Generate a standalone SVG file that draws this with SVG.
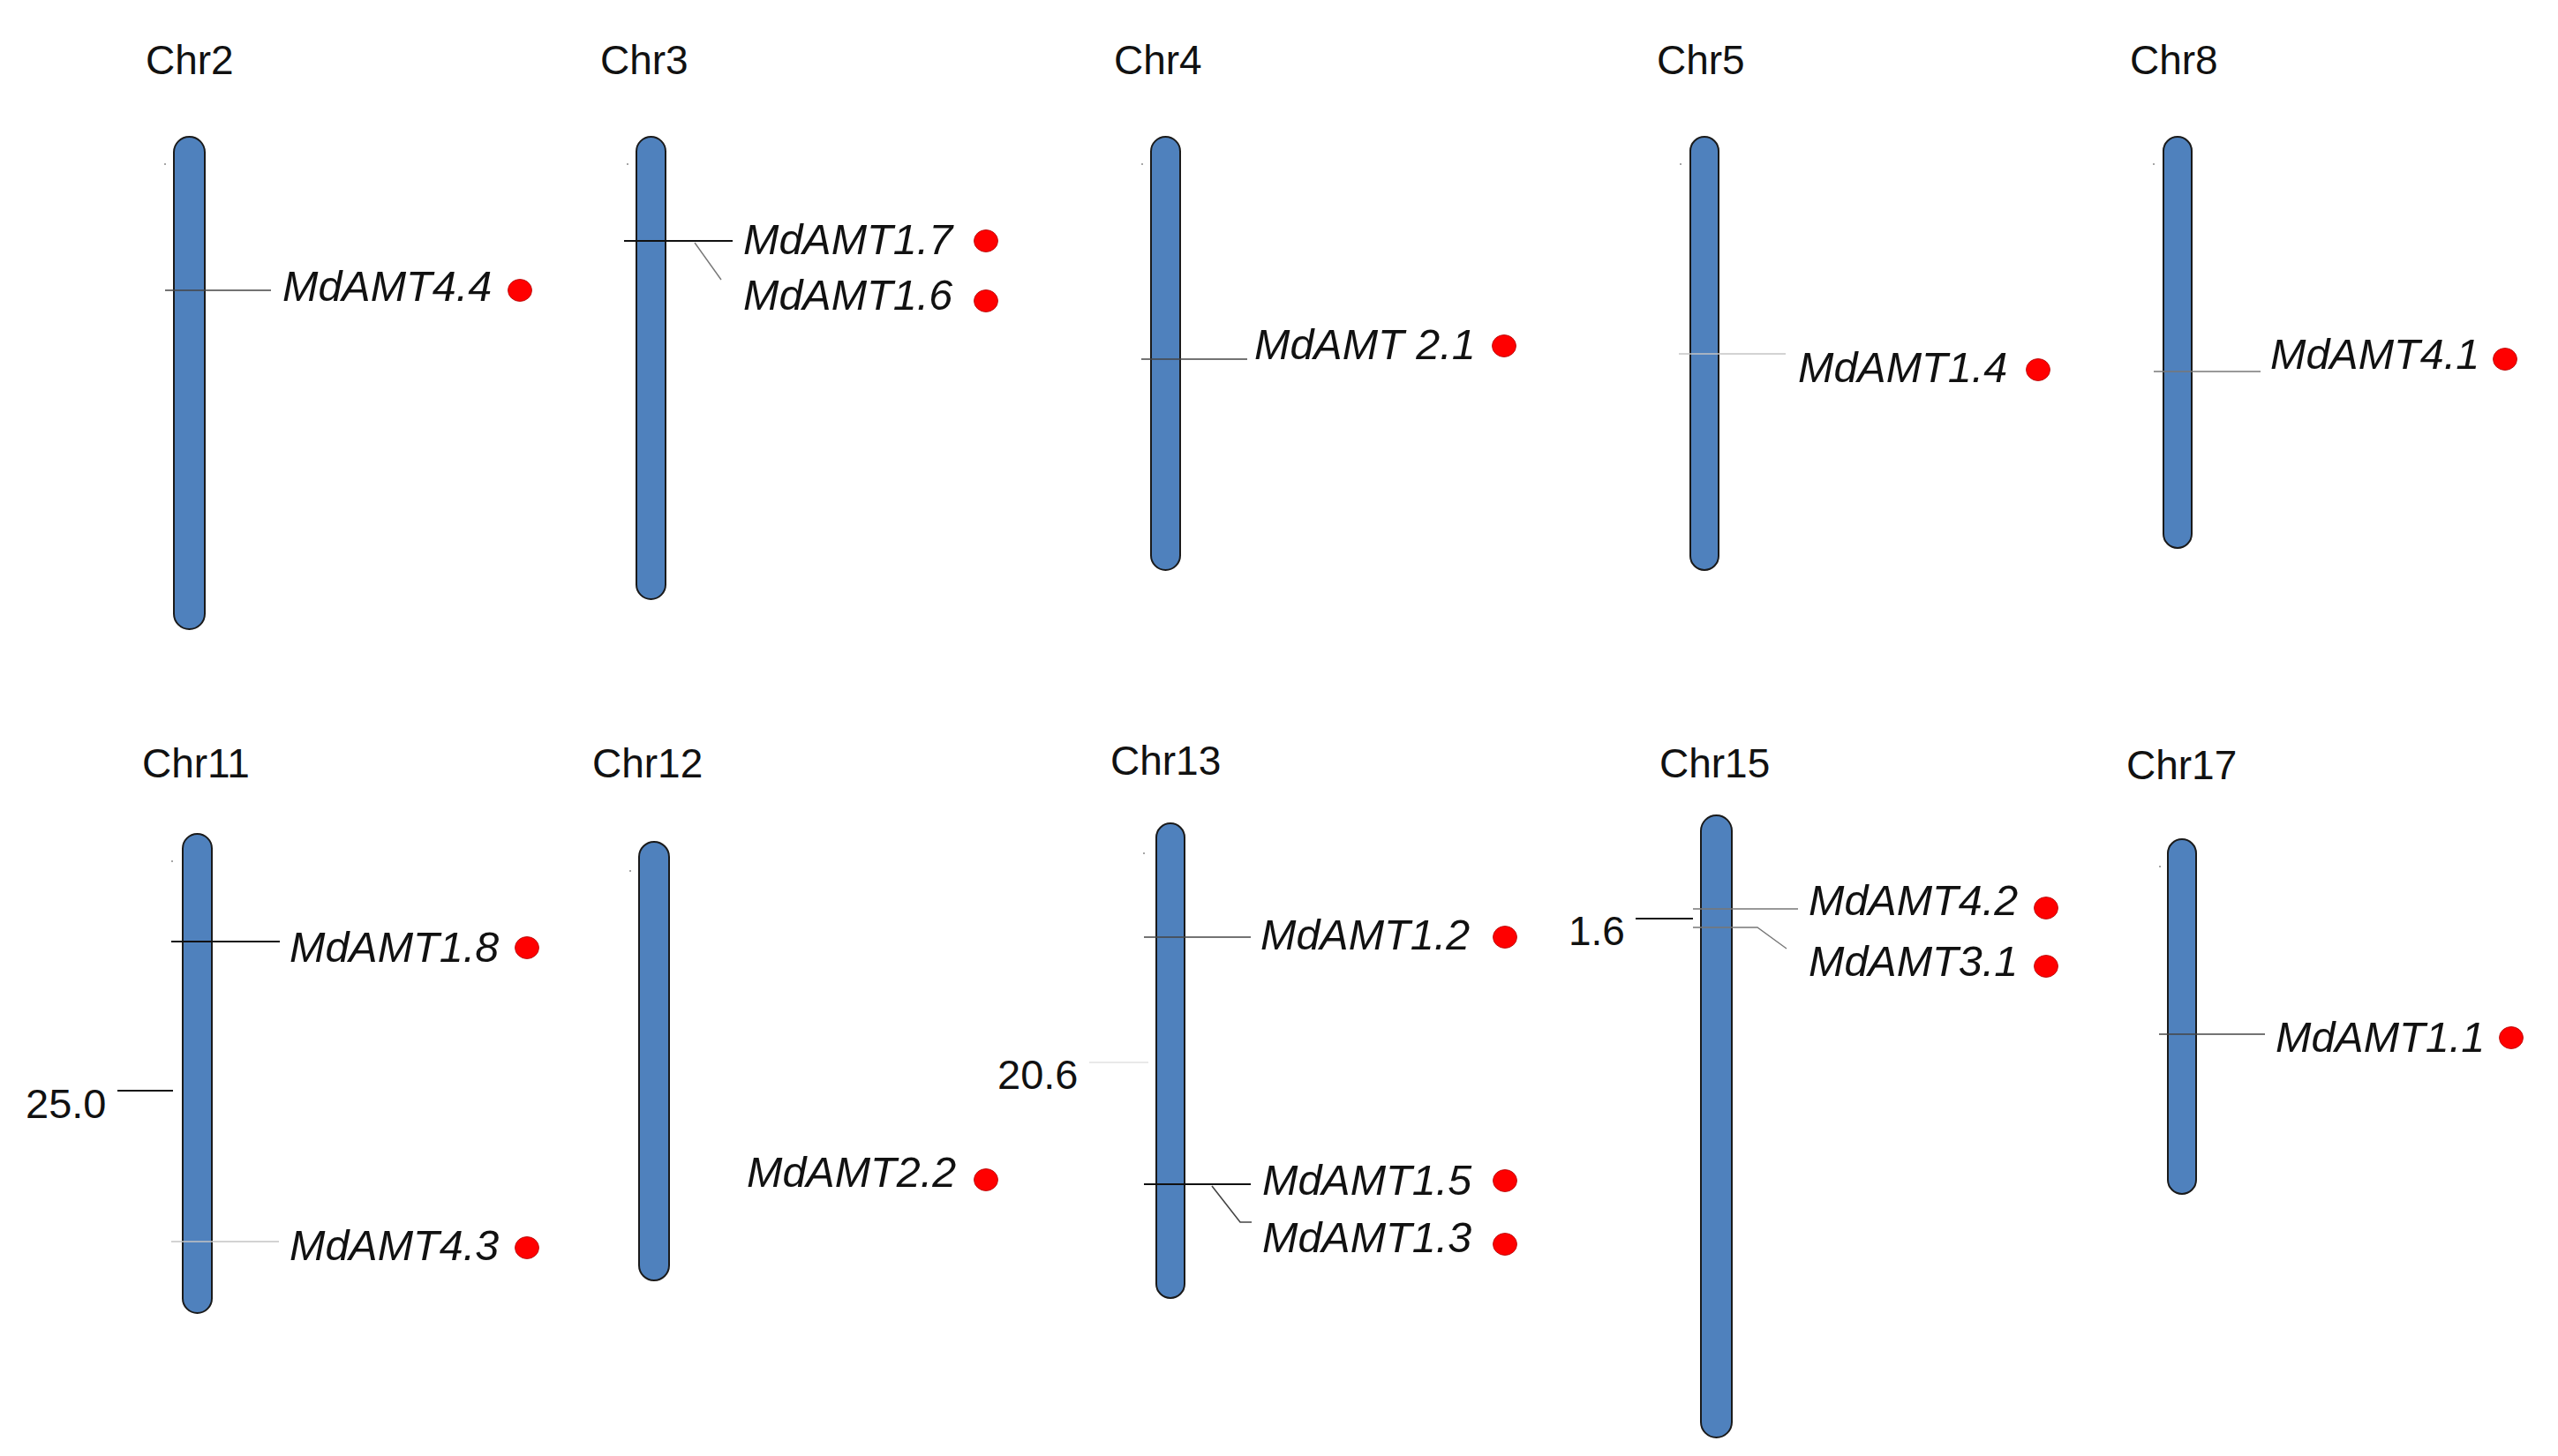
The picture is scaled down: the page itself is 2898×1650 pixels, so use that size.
<svg xmlns="http://www.w3.org/2000/svg" width="2898" height="1650" viewBox="0 0 2898 1650">
<style>
.chr{fill:#4F81BD;stroke:#1a1a1a;stroke-width:2}
.ttl{font-family:"Liberation Sans",Arial,sans-serif;font-size:46px;fill:#111}
.gn{font-family:"Liberation Sans",Arial,sans-serif;font-size:48.5px;font-style:italic;fill:#111}
.num{font-family:"Liberation Sans",Arial,sans-serif;font-size:47px;fill:#111}
.dot{fill:#FF0000;stroke:#b00000;stroke-width:0.8}
.tiny{fill:#888}
.k{stroke:#111;stroke-width:2;fill:none}
.d{stroke:#444;stroke-width:1.6;fill:none}
.m{stroke:#777;stroke-width:1.4;fill:none}
.l{stroke:#c4c4c4;stroke-width:1.4;fill:none}
.xl{stroke:#e2e2e2;stroke-width:1.4;fill:none}
</style>
<rect width="2898" height="1650" fill="#fff"/>

<g id="Chr2"><rect class="chr" x="197" y="155" width="35" height="558" rx="17.5"/><text class="ttl" x="165" y="84">Chr2</text><circle class="tiny" cx="187" cy="186" r="1"/></g>
<g id="Chr3"><rect class="chr" x="721" y="155" width="33" height="524" rx="16.5"/><text class="ttl" x="680" y="84">Chr3</text><circle class="tiny" cx="711" cy="186" r="1"/></g>
<g id="Chr4"><rect class="chr" x="1304" y="155" width="33" height="491" rx="16.5"/><text class="ttl" x="1262" y="84">Chr4</text><circle class="tiny" cx="1294" cy="186" r="1"/></g>
<g id="Chr5"><rect class="chr" x="1915" y="155" width="32" height="491" rx="16"/><text class="ttl" x="1877" y="84">Chr5</text><circle class="tiny" cx="1904" cy="186" r="1"/></g>
<g id="Chr8"><rect class="chr" x="2451" y="155" width="32" height="466" rx="16"/><text class="ttl" x="2413" y="84">Chr8</text><circle class="tiny" cx="2440" cy="186" r="1"/></g>
<g id="Chr11"><rect class="chr" x="207" y="945" width="33" height="543" rx="16.5"/><text class="ttl" x="161" y="881">Chr11</text><circle class="tiny" cx="195" cy="976" r="1"/></g>
<g id="Chr12"><rect class="chr" x="724" y="954" width="34" height="497" rx="17"/><text class="ttl" x="671" y="881">Chr12</text><circle class="tiny" cx="714" cy="987" r="1"/></g>
<g id="Chr13"><rect class="chr" x="1310" y="933" width="32" height="538" rx="16"/><text class="ttl" x="1258" y="878">Chr13</text><circle class="tiny" cx="1296" cy="967" r="1"/></g>
<g id="Chr15"><rect class="chr" x="1927" y="924" width="35" height="705" rx="17.5"/><text class="ttl" x="1880" y="881">Chr15</text></g>
<g id="Chr17"><rect class="chr" x="2456" y="951" width="32" height="402" rx="16"/><text class="ttl" x="2409" y="883">Chr17</text><circle class="tiny" cx="2447" cy="982" r="1"/></g>

<g id="connectors">
<line class="d" x1="187" y1="329" x2="307" y2="329"/>
<line class="k" x1="707" y1="273" x2="830" y2="273"/>
<line class="m" x1="787" y1="275" x2="817" y2="317"/>
<line class="d" x1="1293" y1="407" x2="1413" y2="407"/>
<line class="l" x1="1902" y1="401" x2="2023" y2="401"/>
<line class="m" x1="2440" y1="421" x2="2561" y2="421"/>
<line class="k" x1="194" y1="1067" x2="317" y2="1067"/>
<line class="k" x1="133" y1="1236" x2="196" y2="1236"/>
<line class="l" x1="194" y1="1407" x2="316" y2="1407"/>
<line class="d" x1="1296" y1="1062" x2="1417" y2="1062"/>
<line class="xl" x1="1234" y1="1204" x2="1301" y2="1204"/>
<line class="k" x1="1296" y1="1342" x2="1417" y2="1342"/>
<polyline class="d" points="1373,1344 1405,1385 1418,1385"/>
<line class="k" x1="1853" y1="1041" x2="1918" y2="1041"/>
<line class="m" x1="1918" y1="1030" x2="2037" y2="1030"/>
<polyline class="m" points="1918,1051 1991,1051 2024,1075"/>
<line class="d" x1="2446" y1="1172" x2="2566" y2="1172"/>
</g>

<g id="MdAMT4.4"><text class="gn" x="320" y="341">MdAMT4.4</text><ellipse class="dot" cx="589" cy="329" rx="13.5" ry="12.5"/></g>
<g id="MdAMT1.7"><text class="gn" x="842" y="288">MdAMT1.7</text><ellipse class="dot" cx="1117" cy="273" rx="13.5" ry="12.5"/></g>
<g id="MdAMT1.6"><text class="gn" x="842" y="351">MdAMT1.6</text><ellipse class="dot" cx="1117" cy="341" rx="13.5" ry="12.5"/></g>
<g id="MdAMT2.1"><text class="gn" x="1421" y="407">MdAMT 2.1</text><ellipse class="dot" cx="1704" cy="392" rx="13.5" ry="12.5"/></g>
<g id="MdAMT1.4"><text class="gn" x="2037" y="433">MdAMT1.4</text><ellipse class="dot" cx="2309" cy="419" rx="13.5" ry="12.5"/></g>
<g id="MdAMT4.1"><text class="gn" x="2572" y="418">MdAMT4.1</text><ellipse class="dot" cx="2838" cy="407" rx="13.5" ry="12.5"/></g>
<g id="MdAMT1.8"><text class="gn" x="328" y="1090">MdAMT1.8</text><ellipse class="dot" cx="597" cy="1074" rx="13.5" ry="12.5"/></g>
<g id="MdAMT4.3"><text class="gn" x="328" y="1428">MdAMT4.3</text><ellipse class="dot" cx="597" cy="1414" rx="13.5" ry="12.5"/></g>
<g id="MdAMT2.2"><text class="gn" x="846" y="1345">MdAMT2.2</text><ellipse class="dot" cx="1117" cy="1337" rx="13.5" ry="12.5"/></g>
<g id="MdAMT1.2"><text class="gn" x="1428" y="1076">MdAMT1.2</text><ellipse class="dot" cx="1705" cy="1062" rx="13.5" ry="12.5"/></g>
<g id="MdAMT1.5"><text class="gn" x="1430" y="1354">MdAMT1.5</text><ellipse class="dot" cx="1705" cy="1338" rx="13.5" ry="12.5"/></g>
<g id="MdAMT1.3"><text class="gn" x="1430" y="1419">MdAMT1.3</text><ellipse class="dot" cx="1705" cy="1410" rx="13.5" ry="12.5"/></g>
<g id="MdAMT4.2"><text class="gn" x="2049" y="1037">MdAMT4.2</text><ellipse class="dot" cx="2318" cy="1029" rx="13.5" ry="12.5"/></g>
<g id="MdAMT3.1"><text class="gn" x="2049" y="1106">MdAMT3.1</text><ellipse class="dot" cx="2318" cy="1095" rx="13.5" ry="12.5"/></g>
<g id="MdAMT1.1"><text class="gn" x="2578" y="1192">MdAMT1.1</text><ellipse class="dot" cx="2845" cy="1176" rx="13.5" ry="12.5"/></g>

<g id="scale-labels">
<text class="num" x="29" y="1267">25.0</text>
<text class="num" x="1130" y="1234">20.6</text>
<text class="num" x="1777" y="1071" style="font-size:46px">1.6</text>
</g>
</svg>
